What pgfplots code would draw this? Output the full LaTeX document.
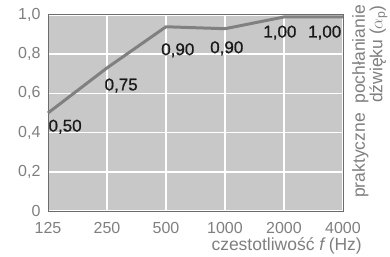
\documentclass[border=0pt]{standalone}
\usepackage{fontspec}
\setmainfont{Liberation Sans}
\newfontfamily\medfont{Liberation Sans}[FakeBold=0.8]
\usepackage{pgfplots}
\pgfplotsset{compat=1.18}
\definecolor{bg}{HTML}{C8C8C8}
\definecolor{tk}{HTML}{7F7F7F}
\definecolor{ln}{HTML}{808080}
\begin{document}
\begin{tikzpicture}
\begin{axis}[
  name=ax,
  scale only axis,
  width=295bp, height=196bp,
  xmin=0, xmax=5, ymin=0, ymax=1,
  axis background/.style={fill=bg},
  axis line style={draw=gray!85!black, line width=1pt},
  xtick={0,1,2,3,4,5},
  xticklabels={125,250,500,1000,2000,4000},
  ytick={0,0.2,0.4,0.6,0.8,1},
  yticklabels={0,{0,2},{0,4},{0,6},{0,8},{1,0}},
  major tick length=0pt,
  grid=major,
  grid style={white, line width=1.6pt},
  tick label style={font=\fontsize{16bp}{18bp}\selectfont, text=tk},
  xticklabel style={yshift=-8bp},
  yticklabel style={xshift=-4bp},
  clip=false,
]
\addplot[ln, line width=3pt, line join=round] coordinates {
  (0,0.50) (1,0.73) (2,0.94) (3,0.93) (4,0.99) (5,0.99)
};
\addplot[draw=none, mark=none, nodes near coords, point meta=explicit symbolic,
  every node near coord/.append style={anchor=center, inner sep=0pt, yshift=0pt,
    font=\medfont\fontsize{17bp}{19bp}\selectfont, text=black!90}] coordinates {
  (0.29,0.43) [0,50]
  (1.24,0.64) [0,75]
  (2.20,0.82) [0,90]
  (3.03,0.83) [0,90]
  (3.93,0.91) [1,00]
  (4.69,0.91) [1,00]
};
\end{axis}
\node[anchor=north east, inner sep=0pt, text=tk, font=\fontsize{17.5bp}{19bp}\selectfont]
  at ([xshift=19bp,yshift=-26bp]ax.south east) {czestotliwość \textit{f}\,(Hz)};
\node[rotate=90, anchor=north east, align=right, inner sep=0pt, text=tk,
  font=\fontsize{17.5bp}{17.5bp}\selectfont]
  at ([xshift=9bp,yshift=10bp]ax.north east)
  {praktyczne\ \ pochłanianie\\dźwięku ($\alpha_{\mathrm{p}}$)\hspace{12bp}};
\path ([xshift=-48bp,yshift=-46bp]ax.south west) rectangle ([xshift=47bp,yshift=15bp]ax.north east);
\end{tikzpicture}
\end{document}
